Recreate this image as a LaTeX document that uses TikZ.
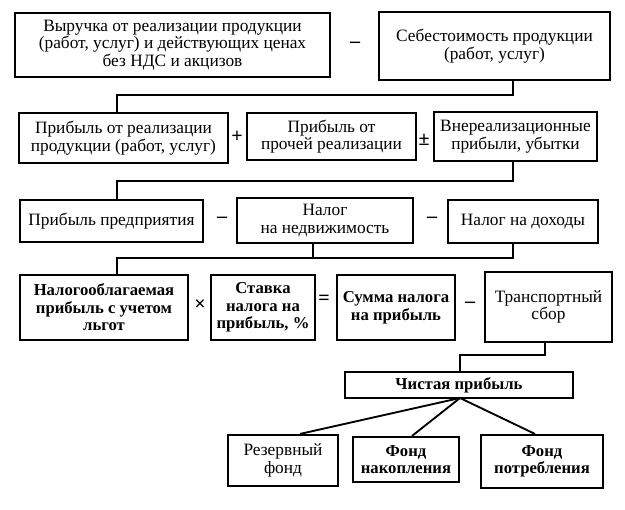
\documentclass[tikz,border=0pt]{standalone}
\usepackage{fontspec}
\setmainfont{Liberation Serif}
\newcommand\bx[7][]{\node[box, #1, minimum width={(#5-#3)*0.75pt}, minimum height={(#6-#4)*0.75pt}] (#2) at ({(#3+#5)/2},{(#4+#6)/2}) {#7};}
\begin{document}
\begin{tikzpicture}[x=0.75pt,y=-0.75pt,
  box/.style={draw, line width=1.6pt, inner sep=0pt, align=center, font=\fontsize{13}{13.2}\selectfont},
  heavy/.style={font=\fontsize{12.5}{13.2}\selectfont\bfseries},
  op/.style={inner sep=0pt, font=\fontsize{15}{15}\selectfont\bfseries},
  link/.style={line width=1.4pt}]
\useasboundingbox (0,0) rectangle (625,510);
\bx{A}{15}{13}{330}{77}{Выручка от реализации продукции\\(работ, услуг) и действующих ценах\\без НДС и акцизов}
\node[op] (o1) at (355,45) {–};
\bx{B}{379}{12}{610}{80}{Себестоимость продукции\\(работ, услуг)}
\bx{C}{19}{113}{228}{163}{Прибыль от реализации\\продукции (работ, услуг)}
\node[op] (o2) at (237,137) {+};
\bx{D}{247}{113}{416}{160}{Прибыль от\\прочей реализации}
\node[op] (o3) at (424,140) {±};
\bx{E}{434}{112}{597}{161}{Внереализационные\\прибыли, убытки}
\bx{F}{20}{200}{203}{242}{Прибыль предприятия}
\node[op] (o4) at (222,220) {–};
\bx{G}{237}{198}{413}{243}{Налог\\на недвижимость}
\node[op] (o5) at (432,220) {–};
\bx{H}{448}{200}{598}{243}{Налог на доходы}
\bx[heavy]{I}{20}{275}{188}{340}{Налогооблагаемая\\прибыль с учетом\\льгот}
\node[op] (o6) at (200,305) {×};
\bx[heavy]{J}{211}{275}{315}{340}{Ставка\\налога на\\прибыль, \%}
\node[op] (o7) at (324,300) {=};
\bx[heavy]{K}{337}{275}{455}{340}{Сумма налога\\на прибыль}
\node[op] (o8) at (470,305) {–};
\bx{L}{485}{272}{612}{342}{Транспортный\\сбор}
\bx[heavy]{M}{345}{372}{573}{398}{Чистая прибыль}
\bx{N}{228}{435}{338}{486}{Резервный\\фонд}
\bx[heavy]{O}{353}{437}{459}{482}{Фонд\\накопления}
\bx[heavy]{P}{481}{435}{603}{488}{Фонд\\потребления}
\coordinate (k1) at (513,95);
\coordinate (k2) at (117,95);
\coordinate (k3) at (513,181);
\coordinate (k4) at (117,181);
\coordinate (k5) at (313,258);
\coordinate (k6) at (513,258);
\coordinate (k7) at (117,258);
\coordinate (k8) at (545,355);
\coordinate (k9) at (460,355);
\coordinate (ap) at (460,398);
\coordinate (n1) at (300,435);
\coordinate (n2) at (412,437);
\coordinate (n3) at (535,435);
\draw[link] (k1 |- B.south) -- (k1) -- (k2) -- (k2 |- C.north);
\draw[link] (k3 |- E.south) -- (k3) -- (k4) -- (k4 |- F.north);
\draw[link] (k5 |- G.south) -- (k5);
\draw[link] (k6 |- H.south) -- (k6) -- (k7) -- (k7 |- I.north);
\draw[link] (k8 |- L.south) -- (k8) -- (k9) -- (k9 |- M.north);
\draw[link] (ap) -- (n1 |- N.north);
\draw[link] (ap) -- (n2 |- O.north);
\draw[link] (ap) -- (n3 |- P.north);
\end{tikzpicture}
\end{document}
